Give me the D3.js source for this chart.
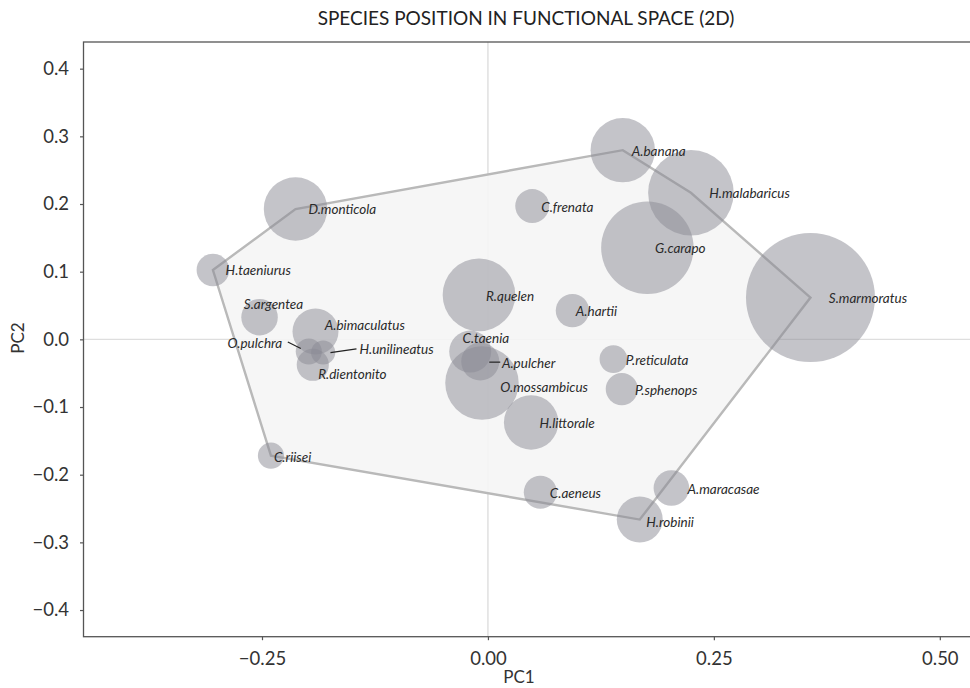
<!DOCTYPE html>
<html>
<head>
<meta charset="utf-8">
<script src="https://cdn.jsdelivr.net/npm/d3@7/dist/d3.min.js"></script>
<style>
  html, body { margin: 0; padding: 0; background: #ffffff; }
  svg { display: block; }
  text { font-family: Lato, "Open Sans", sans-serif; }
</style>
</head>
<body>
<svg id="chart" width="970" height="688"></svg>
<script>
// Species scores on the first two functional axes and their relative weight
const species = ["D.monticola", "H.taeniurus", "S.argentea", "A.bimaculatus", "O.pulchra",
  "H.unilineatus", "R.dientonito", "C.taenia", "A.pulcher", "R.quelen", "A.hartii",
  "O.mossambicus", "H.littorale", "P.reticulata", "P.sphenops", "A.banana",
  "H.malabaricus", "G.carapo", "S.marmoratus", "C.frenata", "C.riisei", "C.aeneus",
  "A.maracasae", "H.robinii"];
const pc1 = [-0.2129, -0.3043, -0.2527, -0.1908, -0.1982, -0.1823, -0.1938, -0.0196,
  -0.0085, -0.0099, 0.0935, -0.0066, 0.0478, 0.1388, 0.1481, 0.1492, 0.2246, 0.1764,
  0.3569, 0.0490, -0.2401, 0.0580, 0.2030, 0.1680];
const pc2 = [0.1926, 0.1025, 0.0328, 0.0115, -0.0180, -0.0195, -0.0376, -0.0180,
  -0.0328, 0.0657, 0.0425, -0.0646, -0.1228, -0.0292, -0.0735, 0.2796, 0.2166, 0.1354,
  0.0617, 0.1970, -0.1719, -0.2260, -0.2196, -0.2663];
const weight = [24.2, 6.4, 8.0, 12.7, 4.1, 3.5, 6.2, 10.6, 8.7, 31.7, 6.7, 32.4, 17.8,
  4.6, 6.2, 24.9, 44.0, 51.3, 100, 6.9, 4.1, 6.6, 7.6, 12.7];

// Vertices of the functional hull, in drawing order
const hullSpecies = ["H.taeniurus", "D.monticola", "A.banana", "H.malabaricus",
  "S.marmoratus", "H.robinii", "C.riisei"];

const xTicks = [-0.25, 0, 0.25, 0.5];
const yTicks = [-0.4, -0.3, -0.2, -0.1, 0, 0.1, 0.2, 0.3, 0.4];

// Label placement relative to each point (pixels); "end" labels are anchored on their right edge
const labelLayout = {
  "D.monticola": [13, 0], "H.taeniurus": [12.7, 0], "S.argentea": [-15.7, -13],
  "A.bimaculatus": [9.3, -6.7], "O.pulchra": [-26.6, -8.4, "end", [-21, -9.5, -8, -3]],
  "H.unilineatus": [36.3, -3.4, "start", [7.3, 0, 33.3, -3.6]],
  "R.dientonito": [5.4, 9.3], "C.taenia": [-7.7, -13.4],
  "A.pulcher": [21.7, 1.6, "start", [9, 0.6, 20, 0.6]],
  "R.quelen": [7, 1], "A.hartii": [3.4, 1], "O.mossambicus": [18.3, 4],
  "H.littorale": [8.3, 0.6], "P.reticulata": [12.4, 0.7], "P.sphenops": [13.3, 1.4],
  "A.banana": [9, 0.7], "H.malabaricus": [18.3, 0.6], "G.carapo": [7.7, 0.6],
  "S.marmoratus": [18.3, 0.6], "C.frenata": [9, 1], "C.riisei": [3, 1.3],
  "C.aeneus": [9.5, 0.6], "A.maracasae": [16.1, 1.7], "H.robinii": [6.5, 2.3]
};

const data = species.map((s, i) => ({ name: s, x: pc1[i], y: pc2[i], w: weight[i] }));
const byName = new Map(data.map(d => [d.name, d]));

const svg = d3.select("#chart");
const panel = { left: 83.5, right: 985, top: 42, bottom: 636.7 };

const x = d3.scaleLinear().domain([-0.4475, 0.55]).range([panel.left, panel.right]);
const y = d3.scaleLinear().domain([-0.4394, 0.4394]).range([panel.bottom, panel.top]);
const r = d3.scaleSqrt().domain([0, 100]).range([0, 64.5]);

const clipId = "plot-clip";
svg.append("defs").append("clipPath").attr("id", clipId)
  .append("rect").attr("x", panel.left).attr("y", panel.top)
  .attr("width", panel.right - panel.left).attr("height", panel.bottom - panel.top);

const plot = svg.append("g");
const inner = plot.append("g").attr("clip-path", `url(#${clipId})`);

// zero reference lines
inner.append("line")
  .attr("x1", x(0)).attr("x2", x(0)).attr("y1", panel.top).attr("y2", panel.bottom)
  .attr("stroke", "#dedede").attr("stroke-width", 1.4);
inner.append("line")
  .attr("x1", panel.left).attr("x2", panel.right).attr("y1", y(0)).attr("y2", y(0))
  .attr("stroke", "#dedede").attr("stroke-width", 1.4);

// functional hull
const hullPts = hullSpecies.map(n => [x(byName.get(n).x), y(byName.get(n).y)]);
inner.append("path")
  .attr("d", d3.line()(hullPts) + "Z")
  .attr("fill", "#f5f5f5")
  .attr("fill-opacity", 0.9)
  .attr("stroke", "#b9b9b9")
  .attr("stroke-width", 2.4)
  .attr("stroke-linejoin", "miter");

// species bubbles
inner.selectAll("circle.sp")
  .data(data)
  .join("circle")
  .attr("class", "sp")
  .attr("cx", d => x(d.x))
  .attr("cy", d => y(d.y))
  .attr("r", d => r(d.w))
  .attr("fill", "#8a8a94")
  .attr("fill-opacity", 0.5);

// leader segments
data.forEach(d => {
  const lay = labelLayout[d.name];
  if (lay && lay[3]) {
    const s = lay[3];
    inner.append("line")
      .attr("x1", x(d.x) + s[0]).attr("y1", y(d.y) + s[1])
      .attr("x2", x(d.x) + s[2]).attr("y2", y(d.y) + s[3])
      .attr("stroke", "#222").attr("stroke-width", 1.2);
  }
});

// species labels
inner.selectAll("text.lab")
  .data(data)
  .join("text")
  .attr("class", "lab")
  .attr("x", d => x(d.x) + labelLayout[d.name][0])
  .attr("y", d => y(d.y) + labelLayout[d.name][1])
  .attr("dy", "0.35em")
  .attr("text-anchor", d => labelLayout[d.name][2] || "start")
  .attr("font-size", 13.5)
  .attr("font-style", "italic")
  .attr("fill", "#2a2a2a")
  .text(d => d.name);

// panel frame
plot.append("rect")
  .attr("x", panel.left).attr("y", panel.top)
  .attr("width", panel.right - panel.left).attr("height", panel.bottom - panel.top)
  .attr("fill", "none").attr("stroke", "#555").attr("stroke-width", 1.3);

// axes
const fmtX = v => (v < 0 ? "\u2212" : "") + Math.abs(v).toFixed(2);
const fmtY = v => (v < -1e-9 ? "\u2212" : "") + Math.abs(v).toFixed(1);

const xAxis = svg.append("g")
  .attr("transform", `translate(0,${panel.bottom})`)
  .call(d3.axisBottom(x).tickValues(xTicks).tickFormat(fmtX).tickSize(3.5).tickPadding(12));
const yAxis = svg.append("g")
  .attr("transform", `translate(${panel.left},0)`)
  .call(d3.axisLeft(y).tickValues(yTicks).tickFormat(fmtY).tickSize(3.5).tickPadding(11));

[xAxis, yAxis].forEach(a => {
  a.select(".domain").remove();
  a.selectAll(".tick line").attr("stroke", "#555").attr("stroke-width", 1.2);
  a.selectAll(".tick text").attr("font-family", "Lato, sans-serif").attr("font-size", 18.5).attr("fill", "#333");
});

// axis titles
svg.append("text")
  .attr("x", 519).attr("y", 677).attr("dy", "0.35em")
  .attr("text-anchor", "middle").attr("font-size", 17).attr("fill", "#333")
  .text("PC1");
svg.append("text")
  .attr("transform", "translate(18,338) rotate(-90)")
  .attr("dy", "0.35em")
  .attr("text-anchor", "middle").attr("font-size", 17).attr("fill", "#333")
  .text("PC2");

// chart title
svg.append("text")
  .attr("x", 526).attr("y", 18).attr("dy", "0.35em")
  .attr("text-anchor", "middle").attr("font-size", 19).attr("fill", "#222")
  .text("SPECIES POSITION IN FUNCTIONAL SPACE (2D)");
</script>
</body>
</html>
